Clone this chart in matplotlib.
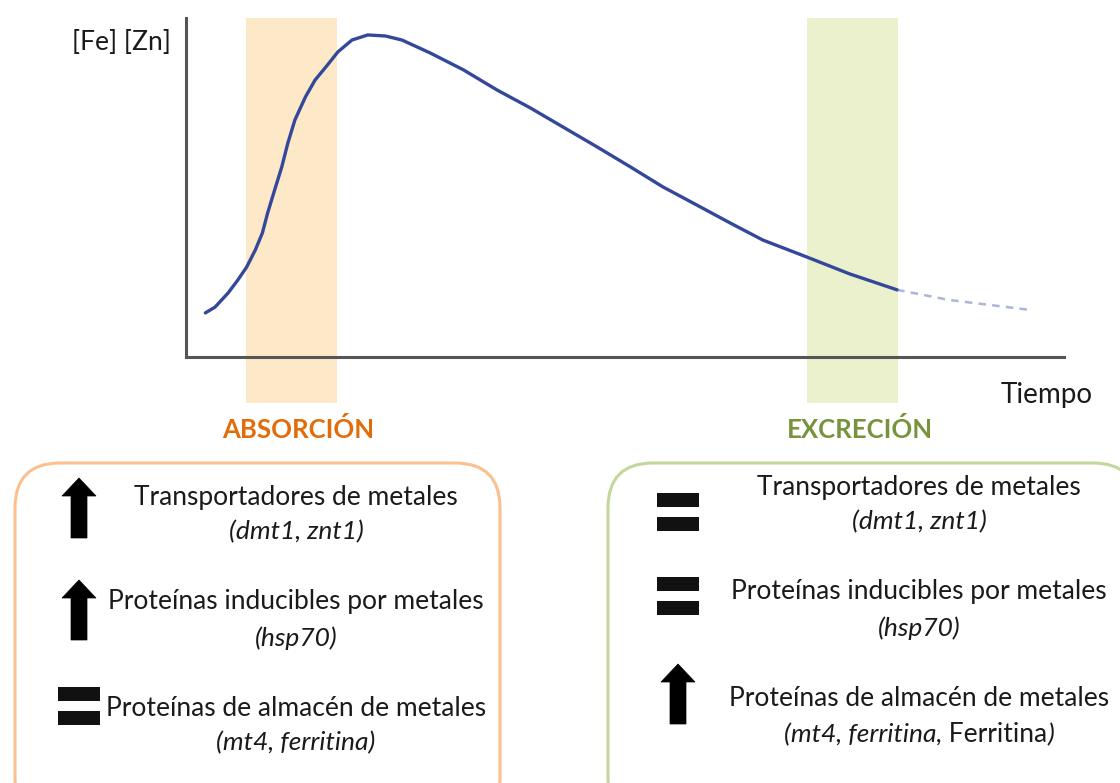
import matplotlib
matplotlib.use("Agg")
import matplotlib.pyplot as plt
from matplotlib.patches import FancyBboxPatch, Polygon, Rectangle

# ---- data (arbitrary units) ----
tiempo = [2.2, 3.3, 4.8, 5.9, 6.9, 7.9, 8.7, 9.3, 10.1, 10.9, 11.6, 12.4, 13.6,
          14.7, 16.1, 17.3, 18.9, 20.7, 22.7, 24.6, 27.8, 31.6, 35.4, 39.2,
          42.9, 46.8, 50.6, 54.3, 58.2, 62.0, 65.7, 70.7, 75.6, 81.0]
concentracion = [13.0, 14.7, 18.9, 22.7, 26.5, 31.6, 36.6, 42.5, 49.3, 56.0,
                 63.1, 69.9, 76.7, 81.7, 86.1, 90.0, 93.5, 95.0, 94.7, 93.5,
                 89.7, 84.7, 78.8, 73.5, 67.9, 62.0, 56.1, 50.2, 44.8, 39.5,
                 34.5, 29.5, 24.5, 19.8]
tiempo_cola = [81.0, 87.0, 96.1]
concentracion_cola = [19.8, 16.8, 13.9]
fase_absorcion = (6.8, 17.2)
fase_excrecion = (70.7, 81.1)

fases = ["ABSORCIÓN", "EXCRECIÓN"]
items = ["Transportadores de metales", "Proteínas inducibles por metales",
         "Proteínas de almacén de metales"]
genes_abs = ["(dmt1, znt1)", "(hsp70)", "(mt4, ferritina)"]
simbolos_abs = ["up", "up", "eq"]
simbolos_exc = ["eq", "eq", "up"]

W, H = 1120, 783
fig = plt.figure(figsize=(W / 100, H / 100), dpi=100)
ov = fig.add_axes([0, 0, 1, 1])
ov.set_xlim(0, W)
ov.set_ylim(H, 0)
ov.axis("off")

FONT = "Lato"
TXT = "#1a1a1a"
FS = 19

# ---- chart ----
x0, x1, ytop, ybot = 186, 1064, 18, 357
ax = fig.add_axes([x0 / W, 1 - ybot / H, (x1 - x0) / W, (ybot - ytop) / H])
ax.patch.set_alpha(0)
ax.set_xlim(0, 100)
ax.set_ylim(0, 100)
ext = -(403 - ybot) / (ybot - ytop)
ax.axvspan(*fase_absorcion, ymin=ext, ymax=1, color="#FDE8C8", clip_on=False, zorder=0, lw=0)
ax.axvspan(*fase_excrecion, ymin=ext, ymax=1, color="#EBF1CD", clip_on=False, zorder=0, lw=0)
ax.plot(tiempo, concentracion, color="#34489a", lw=2.4, solid_capstyle="round",
        solid_joinstyle="round", zorder=3)
ax.plot(tiempo_cola, concentracion_cola, color="#5a6cb0", lw=1.8, alpha=0.5,
        ls=(0, (3, 2.5)), zorder=3)
for s in ["top", "right"]:
    ax.spines[s].set_visible(False)
for s in ["left", "bottom"]:
    ax.spines[s].set_color("#555555")
    ax.spines[s].set_linewidth(2.2)
    ax.spines[s].set_zorder(4)
ax.set_xticks([])
ax.set_yticks([])

ov.text(171, 43, "[Fe] [Zn]", ha="right", va="center", fontsize=19, family=FONT, color=TXT)
ov.text(1047, 395, "Tiempo", ha="center", va="center", fontsize=20, family=FONT, color=TXT)
ov.text(298, 430, fases[0], ha="center", va="center", fontsize=18.5, family=FONT,
        weight="bold", color="#E36C0A")
ov.text(860, 430, fases[1], ha="center", va="center", fontsize=18.5, family=FONT,
        weight="bold", color="#77933C")

# ---- boxes ----
ov.add_patch(FancyBboxPatch((15, 463), 485, 360, boxstyle="round,pad=0,rounding_size=45",
                            fc="white", ec="#FAC090", lw=2.2, clip_on=False))
ov.add_patch(FancyBboxPatch((608, 463), 530, 360, boxstyle="round,pad=0,rounding_size=45",
                            fc="white", ec="#C3D69B", lw=2.2, clip_on=False))


def up_arrow(cx, ytop_, ybot_):
    hw, sw, hh = 17, 8, 18
    pts = [(cx, ytop_), (cx + hw, ytop_ + hh), (cx + sw, ytop_ + hh), (cx + sw, ybot_),
           (cx - sw, ybot_), (cx - sw, ytop_ + hh), (cx - hw, ytop_ + hh)]
    ov.add_patch(Polygon(pts, closed=True, fc="black", ec="black", lw=0.5))


def equal(cx, ytop_):
    for dy in (0, 24):
        ov.add_patch(Rectangle((cx - 21, ytop_ + dy), 42, 14, fc="#111111", ec="none"))


def draw_sym(kind, cx, ymid):
    if kind == "up":
        up_arrow(cx, ymid - 30, ymid + 30)
    else:
        equal(cx, ymid - 19)


renderer = fig.canvas.get_renderer()


def centered_parts(cx, y, parts):
    objs = []
    for txt, style in parts:
        objs.append(ov.text(0, y, txt, ha="left", va="center", fontsize=FS, family=FONT,
                            style=style, color=TXT))
    widths = [o.get_window_extent(renderer).width for o in objs]
    total = sum(widths)
    x = cx - total / 2
    for o, w in zip(objs, widths):
        o.set_x(x)
        x += w


# left box
ly = [(497, 532), (602, 638), (708, 743)]
lsym = [508, 610, 706]
for i in range(3):
    ov.text(296, ly[i][0], items[i], ha="center", va="center", fontsize=FS, family=FONT, color=TXT)
    ov.text(296, ly[i][1], genes_abs[i], ha="center", va="center", fontsize=FS, family=FONT,
            style="italic", color=TXT)
    draw_sym(simbolos_abs[i], 79, lsym[i])

# right box
ry = [(487, 522), (592, 628), (698, 735)]
rsym = [512, 596, 694]
for i in range(3):
    ov.text(919, ry[i][0], items[i], ha="center", va="center", fontsize=FS, family=FONT, color=TXT)
    draw_sym(simbolos_exc[i], 678, rsym[i])
ov.text(919, ry[0][1], genes_abs[0], ha="center", va="center", fontsize=FS, family=FONT,
        style="italic", color=TXT)
ov.text(919, ry[1][1], genes_abs[1], ha="center", va="center", fontsize=FS, family=FONT,
        style="italic", color=TXT)
centered_parts(919, ry[2][1], [("(mt4, ferritina,", "italic"), (" Ferritina", "normal"),
                               (")", "italic")])

fig.savefig("out.png", dpi=100)
